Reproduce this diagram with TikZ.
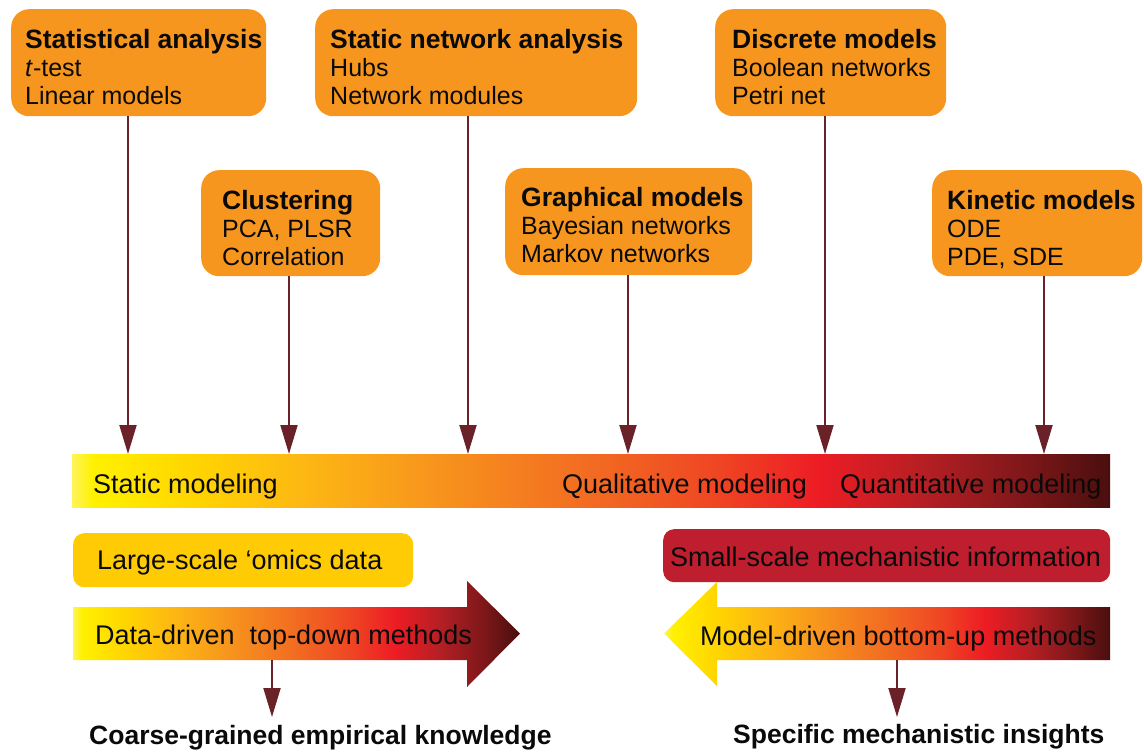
\documentclass[tikz,border=0pt]{standalone}
\usepackage{fontspec}
\setmainfont{Liberation Sans}
\usetikzlibrary{arrows.meta}

% palette
\definecolor{boxorange}{HTML}{F7961E}
\definecolor{omicsgold}{HTML}{FFCB05}
\definecolor{mechred}{HTML}{BE1E2D}
\definecolor{linkbrown}{HTML}{6A2228}
\definecolor{ink}{HTML}{0A0A0A}

% heat ramp: yellow -> orange -> red -> dark maroon
\definecolor{h0}{HTML}{FFF45A}
\definecolor{h1}{HTML}{FFF100}
\definecolor{h2}{HTML}{FFD400}
\definecolor{h3}{HTML}{FDB813}
\definecolor{h4}{HTML}{F7941D}
\definecolor{h5}{HTML}{F26B22}
\definecolor{h6}{HTML}{EF4623}
\definecolor{h7}{HTML}{ED1C24}
\definecolor{h8}{HTML}{B51F24}
\definecolor{h9}{HTML}{7D1719}
\definecolor{h10}{HTML}{4A0E0E}
\pgfdeclarehorizontalshading{heat}{100bp}{%
  color(0bp)=(h0); color(25bp)=(h0); color(26bp)=(h1); color(31bp)=(h2);
  color(36bp)=(h3); color(42.5bp)=(h4); color(50bp)=(h5); color(56bp)=(h6);
  color(61bp)=(h7); color(66bp)=(h8); color(71bp)=(h9); color(75bp)=(h10);
  color(100bp)=(h10)}

\newcommand\mhead[1]{{\bfseries\fontsize{26.5}{28}\selectfont #1}}

\tikzset{
  methodbox/.style={fill=boxorange, draw=none, rounded corners=18pt,
    anchor=north west, inner sep=0pt},
  methodtext/.style={anchor=north west, inner sep=0pt, align=left,
    text=ink, font=\fontsize{25}{28}\selectfont},
  label/.style={anchor=base west, inner sep=0pt, text=ink,
    font=\fontsize{27}{30}\selectfont},
  outcome/.style={anchor=base west, inner sep=0pt, text=ink,
    font=\bfseries\fontsize{26.5}{30}\selectfont},
  conn/.style={draw=linkbrown, line width=2pt,
    -{Triangle[length=29pt,width=17pt]}},
}

\begin{document}
\begin{tikzpicture}[x=1pt,y=-1pt]
\fill[white] (0,0) rectangle (1144,752);
\useasboundingbox (0,0) rectangle (1144,752);

% ---- method boxes ----
\node[methodbox, minimum width=255pt, minimum height=107pt] (stat) at (11,9) {};
\node[methodtext] (stattext) at (25,29)
  {\mhead{Statistical analysis}\\ \textit{t}-test\\ Linear models};

\node[methodbox, minimum width=322pt, minimum height=107pt] (net) at (315,9) {};
\node[methodtext] (nettext) at (330,29)
  {\mhead{Static network analysis}\\ Hubs\\ Network modules};

\node[methodbox, minimum width=231pt, minimum height=107pt] (disc) at (715,9) {};
\node[methodtext] (disctext) at (732,29)
  {\mhead{Discrete models}\\ Boolean networks\\ Petri net};

\node[methodbox, minimum width=179pt, minimum height=106pt] (clus) at (201,170) {};
\node[methodtext] (clustext) at (222,190)
  {\mhead{Clustering}\\ PCA, PLSR\\ Correlation};

\node[methodbox, minimum width=247pt, minimum height=107pt] (graph) at (505,168) {};
\node[methodtext] (graphtext) at (521,187)
  {\mhead{Graphical models}\\ Bayesian networks\\ Markov networks};

\node[methodbox, minimum width=210pt, minimum height=106pt] (kin) at (932,170) {};
\node[methodtext] (kintext) at (947,190)
  {\mhead{Kinetic models}\\ ODE\\ PDE, SDE};

% ---- modeling spectrum bar ----
\node[shading=heat, draw=none, inner sep=0pt, anchor=north west,
      minimum width=1038pt, minimum height=53pt] (bar) at (72,454) {};
\node[label] (static) at (93,493) {Static modeling};
\node[label] (qual) at (562,493) {Qualitative modeling};
\node[label] (quant) at (840,493) {Quantitative modeling};

% feed points on the bar
\coordinate (f1) at (128,454);
\coordinate (f2) at (289,454);
\coordinate (f3) at (468,454);
\coordinate (f4) at (628,454);
\coordinate (f5) at (825,454);
\coordinate (f6) at (1044,454);
\draw[conn] (stat.south -| f1) -- (f1);
\draw[conn] (clus.south -| f2) -- (f2);
\draw[conn] (net.south -| f3) -- (f3);
\draw[conn] (graph.south -| f4) -- (f4);
\draw[conn] (disc.south -| f5) -- (f5);
\draw[conn] (kin.south -| f6) -- (f6);

% ---- data sources ----
\node[fill=omicsgold, rounded corners=11pt, inner sep=0pt, anchor=north west,
      minimum width=340pt, minimum height=54pt] (omics) at (73,533) {};
\node[label] (omicstext) at (97,569) {Large-scale ‘omics data};

\node[fill=mechred, rounded corners=11pt, inner sep=0pt, anchor=north west,
      minimum width=447pt, minimum height=53pt] (mech) at (663,529) {};
\node[label] (mechtext) at (670,566) {Small-scale mechanistic information};

% ---- direction arrows ----
\path[shading=heat] (73,607) -- (467,607) -- (467,581) -- (520,633.5)
  -- (467,687) -- (467,660) -- (73,660) -- cycle;
\node[label] (ddtext) at (95,644) {Data-driven~ top-down methods};

\path[shading=heat] (1110,607) -- (717,607) -- (717,582) -- (664,633.5)
  -- (717,686) -- (717,660) -- (1110,660) -- cycle;
\node[label] (mdtext) at (700,645) {Model-driven bottom-up methods};

% ---- outcomes ----
\coordinate (ddfoot) at (272,660);
\coordinate (ddend) at (272,717);
\coordinate (mdfoot) at (897,660);
\coordinate (mdend) at (897,717);
\draw[conn] (ddfoot) -- (ddend);
\draw[conn] (mdfoot) -- (mdend);
\node[outcome] (coarse) at (89,744) {Coarse-grained empirical knowledge};
\node[outcome] (specific) at (733,743) {Specific mechanistic insights};
\end{tikzpicture}
\end{document}
